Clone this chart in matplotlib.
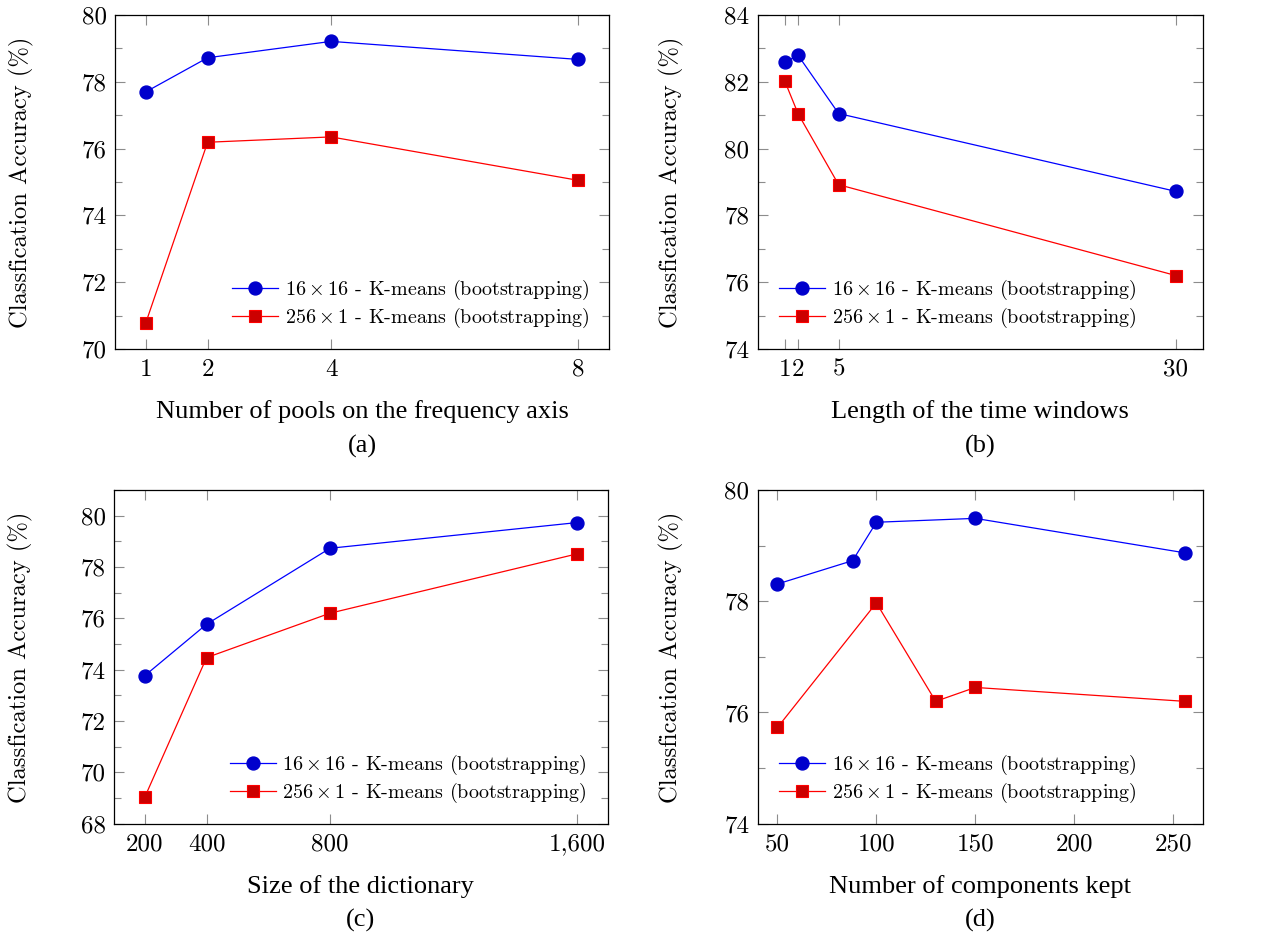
import matplotlib
matplotlib.use("Agg")
import matplotlib.pyplot as plt
from matplotlib.ticker import FixedLocator, MultipleLocator, FormatStrFormatter

# ---------------- data ----------------
a_x = [1, 2, 4, 8]
a_blue = [77.70, 78.72, 79.21, 78.67]
a_red = [70.79, 76.19, 76.35, 75.05]

b_x = [1, 2, 5, 30]
b_blue = [82.59, 82.79, 81.05, 78.72]
b_red = [82.03, 81.04, 78.92, 76.20]

c_x = [200, 400, 800, 1600]
c_blue = [73.77, 75.77, 78.73, 79.73]
c_red = [69.04, 74.47, 76.20, 78.51]

d_blue_x = [50, 88, 100, 150, 256]
d_blue = [78.31, 78.73, 79.42, 79.49, 78.87]
d_red_x = [50, 100, 130, 150, 256]
d_red = [75.73, 77.97, 76.20, 76.45, 76.20]

a_xticks = [1, 2, 4, 8]
a_xticklabels = ["1", "2", "4", "8"]
b_xticks = [1, 2, 5, 30]
b_xticklabels = ["1", "2", "5", "30"]
c_xticks = [200, 400, 800, 1600]
c_xticklabels = ["200", "400", "800", "1,600"]
d_xticks = [50, 100, 150, 200, 250]
d_xticklabels = ["50", "100", "150", "200", "250"]

label_blue = r"$16\times16$ - K-means (bootstrapping)"
label_red = r"$256\times1$ - K-means (bootstrapping)"
ylabel = "Classfication Accuracy (%)"
xlabels = ["Number of pools on the frequency axis", "Length of the time windows",
           "Size of the dictionary", "Number of components kept"]
captions = ["(a)", "(b)", "(c)", "(d)"]

# ---------------- style ----------------
plt.rcParams["mathtext.fontset"] = "cm"
plt.rcParams["axes.formatter.use_mathtext"] = True
CM = "cmr10"
TIMES = "Liberation Serif"
FS_TICK = 18
FS_YLAB = 17.7
FS_LEG = 14.5
FS_X = 19

BLUE_LINE = (0, 0, 1)
BLUE_FILL = (0, 0, 0.8)
RED_LINE = (1, 0, 0)
RED_FILL = (0.8, 0, 0)

W, H = 1277, 932
fig = plt.figure(figsize=(W / 100, H / 100), dpi=100)

def frac(l, t, r, b):
    return [l / W, 1 - b / H, (r - l) / W, (b - t) / H]

rects = [frac(115, 15, 609, 349), frac(757.7, 15, 1202.7, 349),
         frac(114, 490, 607.7, 823.7), frac(757.7, 490, 1202.7, 823.7)]

panels = [
    dict(bx=a_x, by=a_blue, rx=a_x, ry=a_red, xlim=(0.5, 8.5), ylim=(70, 80),
         xt=a_xticks, xtl=a_xticklabels, leg=(0.2368, 0.1353), ylx=-81),
    dict(bx=b_x, by=b_blue, rx=b_x, ry=b_red, xlim=(-1, 32), ylim=(74, 84),
         xt=b_xticks, xtl=b_xticklabels, leg=(0.0479, 0.1353), ylx=-74),
    dict(bx=c_x, by=c_blue, rx=c_x, ry=c_red, xlim=(100, 1700), ylim=(68, 81),
         xt=c_xticks, xtl=c_xticklabels, leg=(0.2344, 0.1349), ylx=-81),
    dict(bx=d_blue_x, by=d_blue, rx=d_red_x, ry=d_red, xlim=(40, 265), ylim=(74, 80),
         xt=d_xticks, xtl=d_xticklabels, leg=(0.0479, 0.1349), ylx=-74),
]

for i, (p, rect) in enumerate(zip(panels, rects)):
    ax = fig.add_axes(rect)
    ax.plot(p["bx"], p["by"], color=BLUE_LINE, lw=0.9, marker="o", ms=9.3,
            mfc=BLUE_FILL, mec=BLUE_FILL, label=label_blue)
    ax.plot(p["rx"], p["ry"], color=RED_LINE, lw=0.9, marker="s", ms=8.2,
            mfc=RED_FILL, mec=RED_LINE, mew=0.8, label=label_red)
    ax.set_xlim(*p["xlim"])
    ax.set_ylim(*p["ylim"])
    ax.xaxis.set_major_locator(FixedLocator(p["xt"]))
    ax.set_xticklabels(p["xtl"])
    ax.yaxis.set_major_locator(MultipleLocator(2))
    ax.yaxis.set_minor_locator(MultipleLocator(1))
    ax.yaxis.set_major_formatter(FormatStrFormatter("%d"))
    ax.tick_params(which="both", direction="in", top=True, right=True,
                   color="0.55", width=0.8)
    ax.tick_params(which="major", length=7)
    ax.tick_params(which="minor", length=5)
    ax.tick_params(axis="x", pad=7)
    ax.tick_params(axis="y", pad=6)
    for lab in ax.get_xticklabels() + ax.get_yticklabels():
        lab.set_fontfamily(CM)
        lab.set_fontsize(FS_TICK)
    for s in ax.spines.values():
        s.set_linewidth(0.9)
        s.set_color("black")

    axw = rect[2] * W
    axh = rect[3] * H
    ax.set_ylabel(ylabel, fontfamily=CM, fontsize=FS_YLAB)
    ax.yaxis.set_label_coords(p["ylx"] / axw, 0.5)

    ax.text(0.5, -63 / axh, xlabels[i], transform=ax.transAxes, ha="center",
            va="center", fontfamily=TIMES, fontsize=FS_X)
    ax.text(0.5, -97 / axh, captions[i], transform=ax.transAxes, ha="center",
            va="center", fontfamily=TIMES, fontsize=FS_X)

    ax.legend(loc="center left", bbox_to_anchor=p["leg"],
              frameon=False, prop=dict(family=CM, size=FS_LEG),
              borderpad=0, borderaxespad=0, handlelength=2.28,
              handletextpad=0.34, labelspacing=0.2)

fig.savefig("out.png", dpi=100)
